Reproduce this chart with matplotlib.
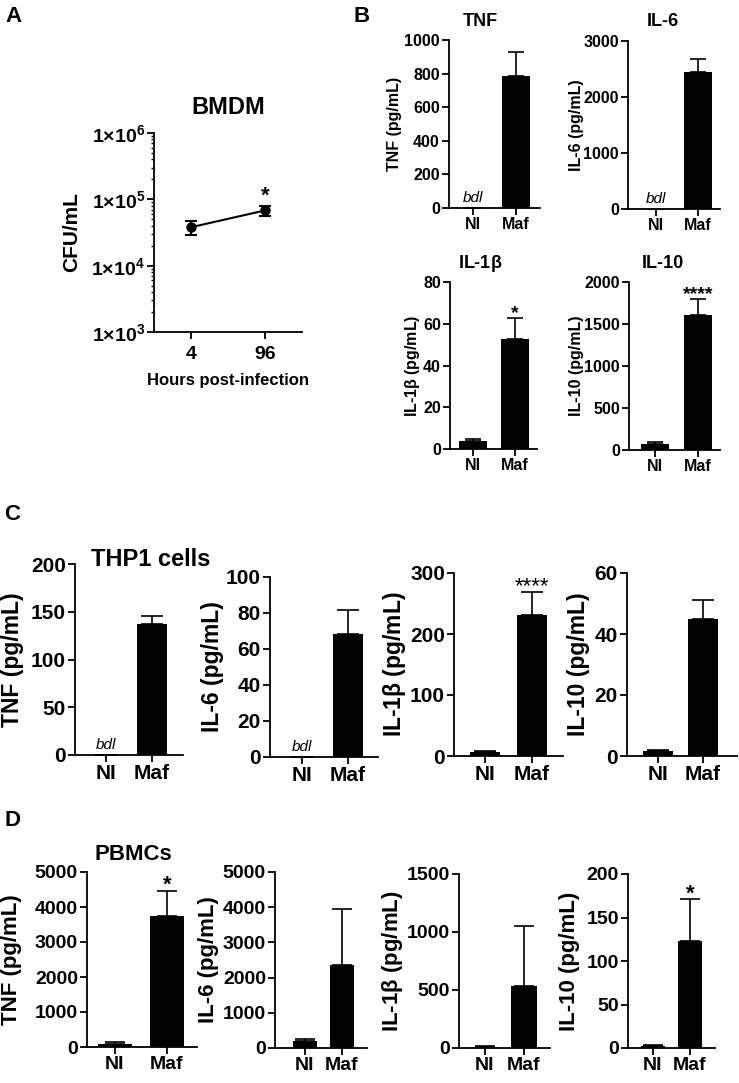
import numpy as np
import matplotlib
matplotlib.use("Agg")
import matplotlib.pyplot as plt
from matplotlib.ticker import FuncFormatter, LogLocator, NullFormatter

plt.rcParams['font.family'] = ['Liberation Sans', 'DejaVu Sans']
plt.rcParams['font.weight'] = 'bold'
plt.rcParams['mathtext.fontset'] = 'custom'
plt.rcParams['mathtext.rm'] = 'Liberation Sans'
plt.rcParams['mathtext.it'] = 'Liberation Sans'
plt.rcParams['mathtext.bf'] = 'Liberation Sans:bold'

# ---- data ----
groups = ['NI', 'Maf']

# A: BMDM CFU
hours = ['4', '96']
cfu_mean = [3.8e4, 6.8e4]
cfu_err = [0.87e4, 1.15e4]

# B: BMDM cytokines
bmdm_tnf, bmdm_tnf_err = [0, 786], [0, 140]
bmdm_il6, bmdm_il6_err = [0, 2450], [0, 230]
bmdm_il1b, bmdm_il1b_err = [3.8, 52.7], [0.8, 10.1]
bmdm_il10, bmdm_il10_err = [70, 1610], [22, 186]

# C: THP1 cells
thp1_tnf, thp1_tnf_err = [0, 137], [0, 9]
thp1_il6, thp1_il6_err = [0, 68.3], [0, 13.4]
thp1_il1b, thp1_il1b_err = [7, 231], [2, 38]
thp1_il10, thp1_il10_err = [1.8, 44.9], [0.1, 6.2]

# D: PBMCs
pbmc_tnf, pbmc_tnf_err = [100, 3740], [40, 715]
pbmc_il6, pbmc_il6_err = [200, 2360], [55, 1590]
pbmc_il1b, pbmc_il1b_err = [10, 534], [3, 518]
pbmc_il10, pbmc_il10_err = [2, 123], [1, 48]

W, H = 739, 1083
fig = plt.figure(figsize=(W / 100, H / 100), dpi=100)


def px_axes(l, t, r, b):
    return fig.add_axes([l / W, 1 - b / H, (r - l) / W, (b - t) / H])


def fig_text(x, y, s, **kw):
    fig.text(x / W, 1 - y / H, s, **kw)


def style_axes(ax, fs):
    for s in ['top', 'right']:
        ax.spines[s].set_visible(False)
    for s in ['left', 'bottom']:
        ax.spines[s].set_linewidth(1.3)
    ax.tick_params(width=1.3, length=5, labelsize=fs, pad=1.5)


def bar_panel(box, ni_px, maf_px, means, errs, ymax, ystep, fs, cap,
              ylabel, ylabel_x, ylabel_fs, bdl=False, stars=None, star_fs=14,
              star_weight='bold'):
    l, t, r, b = box
    ax = px_axes(l, t, r, b)
    sp = maf_px - ni_px
    x = np.arange(len(groups))
    bw = 0.65
    ax.bar(x, means, width=bw, color='black', zorder=2)
    ax.errorbar(x, means, yerr=[np.zeros(len(errs)), errs], fmt='none',
                ecolor='black', elinewidth=1.2, capsize=cap, capthick=1.2,
                zorder=1)
    ax.set_xlim((l - ni_px) / sp, (r - ni_px) / sp)
    ax.set_ylim(0, ymax)
    ax.set_yticks(np.arange(0, ymax + ystep / 2, ystep))
    ax.set_xticks(x)
    ax.set_xticklabels(groups)
    style_axes(ax, fs)
    fig_text(ylabel_x, (t + b) / 2, ylabel, rotation=90, ha='center',
             va='center', fontsize=ylabel_fs, fontweight='bold')
    if bdl:
        ax.annotate('bdl', (0, 0), xytext=(0, 2), textcoords='offset points',
                    ha='center', va='bottom', fontsize=11, style='italic',
                    fontweight='normal')
    if stars:
        ax.annotate(stars, (1, means[1] + errs[1]), xytext=(0, 0),
                    textcoords='offset points', ha='center', va='baseline',
                    fontsize=star_fs, fontweight=star_weight)
    return ax


# ---- A ----
axA = px_axes(154, 133, 302, 332)
axA.errorbar([0, 1], cfu_mean, yerr=cfu_err, fmt='-o', color='black',
             ms=6.5, lw=1.5, elinewidth=1.5, capsize=4, capthick=1.5)
axA.set_yscale('log')
axA.set_ylim(1e3, 1e6)
axA.set_xlim(-0.5, 1.5)
axA.set_xticks([0, 1])
axA.set_xticklabels(hours)
axA.set_yticks([1e3, 1e4, 1e5, 1e6])
axA.yaxis.set_major_formatter(FuncFormatter(
    lambda v, p: '1×10$^{%d}$' % int(round(np.log10(v)))))
axA.yaxis.set_minor_locator(LogLocator(base=10, subs=np.arange(2, 10)))
axA.yaxis.set_minor_formatter(NullFormatter())
style_axes(axA, 14)
axA.tick_params(axis='x', pad=5)
axA.tick_params(which='minor', width=1.0, length=2.5)
axA.annotate('*', (1, cfu_mean[1] + cfu_err[1]), xytext=(0, 3),
             textcoords='offset points', ha='center', va='baseline',
             fontsize=16, fontweight='bold')
fig_text(228, 108, 'BMDM', ha='center', va='center', fontsize=17,
         fontweight='bold')
fig_text(72, 232, 'CFU/mL', rotation=90, ha='center', va='center',
         fontsize=15, fontweight='bold')
fig_text(228, 380, 'Hours post-infection', ha='center', va='center',
         fontsize=12, fontweight='bold')

# ---- B ----
bar_panel((449, 40, 540, 208), 473, 516, bmdm_tnf, bmdm_tnf_err, 1000, 200,
          11.5, 6, 'TNF (pg/mL)', 395, 11.5, bdl=True)
bar_panel((628, 41, 720, 209), 656, 698, bmdm_il6, bmdm_il6_err, 3000, 1000,
          11.5, 6, 'IL-6 (pg/mL)', 577, 11.5, bdl=True)
bar_panel((450, 282, 537, 449), 473, 515, bmdm_il1b, bmdm_il1b_err, 80, 20,
          11.5, 6, 'IL-1$\\beta$ (pg/mL)', 413, 11.5, stars='*')
bar_panel((629, 282, 720, 450), 655, 698, bmdm_il10, bmdm_il10_err, 2000, 500,
          11.5, 6, 'IL-10 (pg/mL)', 577, 11.5, stars='****')
for tx, ty, name in [(480, 22, 'TNF'), (663, 22, 'IL-6'),
                     (480, 263, 'IL-1$\\beta$'), (663, 263, 'IL-10')]:
    fig_text(tx, ty, name, ha='center', va='center', fontsize=13,
             fontweight='bold')

# ---- C ----
bar_panel((75, 564, 183, 755), 106, 152, thp1_tnf, thp1_tnf_err, 200, 50,
          15, 8, 'TNF (pg/mL)', 13, 16.5, bdl=True)
bar_panel((270, 577, 378, 757), 302, 348, thp1_il6, thp1_il6_err, 100, 20,
          15, 8, 'IL-6 (pg/mL)', 213, 16.5, bdl=True)
bar_panel((454, 573, 563, 756), 485, 532, thp1_il1b, thp1_il1b_err, 300, 100,
          15, 8, 'IL-1$\\beta$ (pg/mL)', 395, 16.5, stars='****', star_fs=16,
          star_weight='normal')
bar_panel((627, 573, 737, 756), 658, 703, thp1_il10, thp1_il10_err, 60, 20,
          15, 8, 'IL-10 (pg/mL)', 578, 16.5)
fig_text(151, 559, 'THP1 cells', ha='center', va='center', fontsize=17,
         fontweight='bold')

# ---- D ----
bar_panel((87, 872, 197, 1047), 115, 167, pbmc_tnf, pbmc_tnf_err, 5000, 1000,
          14, 7, 'TNF (pg/mL)', 12, 16, stars='*', star_fs=16)
bar_panel((275, 872, 367, 1048), 305, 342, pbmc_il6, pbmc_il6_err, 5000, 1000,
          14, 7, 'IL-6 (pg/mL)', 209, 16)
bar_panel((459, 874, 550, 1048), 485, 524, pbmc_il1b, pbmc_il1b_err, 1500, 500,
          14, 7, 'IL-1$\\beta$ (pg/mL)', 392, 16)
bar_panel((628, 874, 715, 1048), 653, 690, pbmc_il10, pbmc_il10_err, 200, 50,
          14, 7, 'IL-10 (pg/mL)', 570, 16, stars='*', star_fs=16)
fig_text(133, 855, 'PBMCs', ha='center', va='center', fontsize=16,
         fontweight='bold')

# panel letters
for letter, (lx, ly) in {'A': (13, 17), 'B': (362, 17), 'C': (12, 515),
                         'D': (13, 820)}.items():
    fig_text(lx, ly, letter, ha='center', va='center', fontsize=16,
             fontweight='bold')

fig.savefig('out.png', dpi=100)
